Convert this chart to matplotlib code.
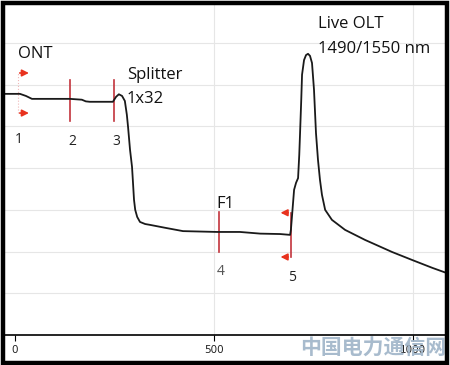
import matplotlib.pyplot as plt
from matplotlib.patches import Rectangle

# === 資料 === #
trace_x = [-25, 12.6, 27.6, 42.7, 138, 168, 178, 188, 246, 254, 261, 269, 276, 281, 284,
           289, 294, 296, 299, 302, 307, 314, 327, 339, 377, 422, 508, 565, 616, 666,
           691, 693, 696, 698, 701, 706, 711, 714, 716, 719, 721, 726, 731, 736, 741,
           746, 751, 756, 761, 766, 771, 779, 796, 829, 879, 947, 997, 1048, 1080]
trace_y = [5.78, 5.78, 5.73, 5.66, 5.66, 5.64, 5.60, 5.59, 5.59, 5.71, 5.77, 5.73, 5.61, 5.28, 4.99,
           4.44, 4.03, 3.72, 3.24, 3.00, 2.83, 2.71, 2.66, 2.64, 2.57, 2.49, 2.47, 2.47, 2.43, 2.42,
           2.40, 2.52, 2.88, 3.12, 3.48, 3.65, 3.76, 4.32, 4.84, 5.64, 6.24, 6.59, 6.71, 6.74, 6.69,
           6.52, 5.88, 4.84, 4.20, 3.72, 3.36, 3.00, 2.76, 2.52, 2.28, 1.99, 1.80, 1.61, 1.50]

marker_labels = ["1", "2", "3", "4", "5"]
marker_x = [8, 138, 249, 513, 693]
marker_top = [6.28, 6.12, 6.12, 2.95, 2.93]
marker_bottom = [5.32, 5.13, 5.13, 1.99, 1.87]
label_x = [0, 133, 244, 508, 686]
label_y = [4.68, 4.63, 4.63, 1.53, 1.37]

tick_pos = [0, 500, 1000]
tick_text = ["0", "500", "1000"]

red = "#c2343c"
arrow_red = "#e8321e"

fig = plt.figure(figsize=(4.5, 3.65), dpi=100)
ax = fig.add_axes([5 / 450, 30 / 365, 440 / 450, 330 / 365])
ax.set_xlim(-25, 1080)
ax.set_ylim(0, 7.91)

# 格線
for g in range(1, 8):
    ax.axhline(g, color="#e6e6e6", lw=0.8, zorder=0)
for g in tick_pos[1:]:
    ax.axvline(g, color="#e6e6e6", lw=0.8, zorder=0)

# 浮水印
fig.text(0.83, 0.047, "中国电力通信网", family=["Noto Sans CJK SC", "DejaVu Sans"],
         fontsize=15, fontweight="bold", color="#9fb4c8", alpha=0.9,
         ha="center", va="center", zorder=0)

# 曲線
ax.plot(trace_x, trace_y, color="#1a1a1a", lw=1.3, zorder=4)

# 事件標記
for i in range(len(marker_x)):
    if i == 0:
        ax.plot([marker_x[i]] * 2, [marker_bottom[i], marker_top[i]], color="#f0b8b8",
                lw=0.8, ls=":", zorder=2)
    else:
        ax.plot([marker_x[i]] * 2, [marker_bottom[i], marker_top[i]], color=red, lw=1.2, zorder=3)
    ax.text(label_x[i], label_y[i], marker_labels[i], fontsize=10,
            color="#555555" if i == 3 else "#222222", family="Open Sans", ha="left", va="center")

for yy in [marker_top[0], marker_bottom[0]]:
    ax.annotate("", xy=(42, yy), xytext=(5, yy),
                arrowprops=dict(arrowstyle="-|>", color=arrow_red, lw=1.2, mutation_scale=10))
for yy in [marker_top[4], marker_bottom[4]]:
    ax.annotate("", xy=(660, yy), xytext=(693, yy),
                arrowprops=dict(arrowstyle="-|>", color=arrow_red, lw=1.2, mutation_scale=10))

# 文字說明
txt = dict(fontsize=12, family="Open Sans", color="#111111", va="baseline")
ax.text(8, (335 - 58) / 41.7, "ONT", **txt)
ax.text(281, (335 - 79) / 41.7, "Splitter", **txt)
ax.text(281, (335 - 103) / 41.7, "1x32", **txt)
ax.text(507, (335 - 208) / 41.7, "F1", **txt)
ax.text(761, (335 - 28) / 41.7, "Live OLT", **txt)
ax.text(761, (335 - 53) / 41.7, "1490/1550 nm", **txt)

# 座標軸
for s in ["top", "left", "right"]:
    ax.spines[s].set_visible(False)
ax.spines["bottom"].set_linewidth(1.2)
ax.set_yticks([])
ax.set_xticks(tick_pos)
ax.set_xticklabels(tick_text, fontsize=7.5, color="#222222")
ax.tick_params(axis="x", length=4, width=0.8, pad=3)

# 外框
fig.patches.append(Rectangle((3 / 450, 2 / 365), 444 / 450, 360 / 365, transform=fig.transFigure,
                             fill=False, ec="black", lw=3.2, zorder=10))

plt.savefig("out.png", dpi=100)
plt.close()
